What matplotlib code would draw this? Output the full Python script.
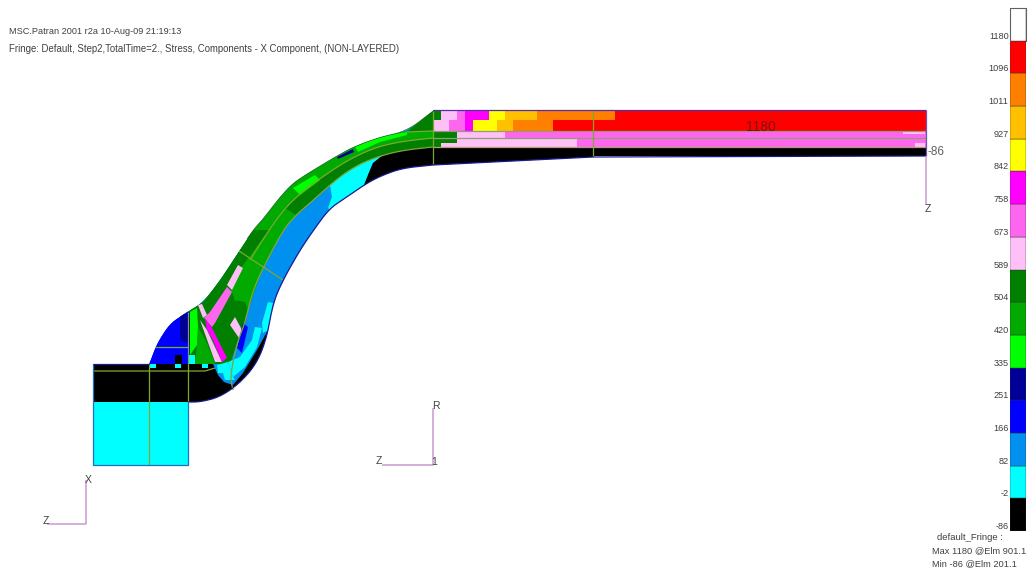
import matplotlib
matplotlib.use("Agg")
import matplotlib.pyplot as plt
from matplotlib.patches import Polygon
import numpy as np

plt.rcParams['font.family'] = ['Liberation Sans', 'DejaVu Sans']

# fringe legend, top to bottom
fringe_colors = ['#ffffff', '#ff0000', '#ff7f00', '#ffc000', '#ffff00', '#ff00ff', '#ff66f0', '#ffc0f8',
                 '#007f00', '#00aa00', '#00ff00', '#000099', '#0000ff', '#0090f0', '#00ffff', '#000000']
fringe_labels = ['1180', '1096', '1011', '927', '842', '758', '673', '589',
                 '504', '420', '335', '251', '166', '82', '-2', '-86']
WHITE, RED, ORANGE, GOLD, YELLOW, MAGENTA, PINK, LPINK, DGREEN, GREEN, BGREEN, NAVY, BLUE, SKY, CYAN, BLACK = fringe_colors

header_lines = ['MSC.Patran 2001 r2a 10-Aug-09 21:19:13',
                'Fringe: Default, Step2,TotalTime=2., Stress, Components - X Component, (NON-LAYERED)']
footer_lines = ['default_Fringe :', 'Max 1180 @Elm 901.1', 'Min -86 @Elm 201.1']

# section outline curves in image pixels
top_curve = [(433, 111), (407, 131), (380, 137), (353, 147), (335, 157), (310, 172), (293, 183), (280, 197),
             (263, 219), (253, 230), (239, 251), (220, 280), (203, 302), (187, 312), (170, 323), (157, 343), (149, 364)]
bottom_curve = [(433, 165), (403, 168), (383, 175), (367, 183), (347, 197), (330, 208), (315, 228), (300, 250),
                (283, 280), (273, 303), (267, 337), (257, 363), (240, 383), (220, 397), (200, 402), (188, 402)]
line2 = [(433, 138), (405, 141), (380, 146), (358, 155), (340, 165), (318, 180), (302, 192), (285, 208),
         (269, 230), (250, 260)]
line3 = [(433, 147), (405, 150), (383, 155), (362, 163), (345, 173), (330, 185), (310, 203), (296, 215),
         (283, 230), (262, 270), (252, 293), (245, 323), (237, 343), (230, 377), (233, 390)]

# flat part: colour breaks along x for each row
row1_breaks = [433, 441, 457, 465, 489, 505, 537, 615, 926]
row1_colors = [DGREEN, LPINK, PINK, MAGENTA, YELLOW, GOLD, ORANGE, RED]
row2_breaks = [433, 449, 465, 473, 497, 513, 553, 926]
row2_colors = [LPINK, PINK, MAGENTA, YELLOW, GOLD, ORANGE, RED]
row3_breaks = [433, 457, 505, 926]
row3_colors = [DGREEN, LPINK, PINK]
row4_breaks = [433, 457, 577, 926]
row4_colors = [DGREEN, LPINK, PINK]
row5_breaks = [433, 926]
row5_colors = [BLACK]

# contour patches under the fillet block (pixels, colour), painted in this order
fan_patches = [
    ([(253, 230), (239, 251), (220, 280), (203, 302), (187, 312), (188, 364), (230, 364), (237, 343), (245, 323),
      (252, 293), (262, 270), (283, 230)], DGREEN),
    ([(270, 230), (283, 230), (262, 270), (248, 310), (245, 302), (235, 300), (230, 287), (243, 265),
      (252, 253), (263, 238)], GREEN),
    ([(188, 312), (170, 323), (157, 343), (149, 364), (190, 364), (190, 312)], BLUE),
    ([(180, 316), (188, 311), (195, 333), (193, 345), (180, 340)], NAVY),
    ([(190, 312), (197, 308), (198, 327), (197, 345), (190, 355)], BGREEN),
    ([(198, 327), (207, 343), (215, 364), (195, 364), (197, 345)], GREEN),
    ([(188, 355), (195, 355), (195, 364), (188, 364)], CYAN),
    ([(175, 355), (182, 355), (182, 364), (175, 364)], BLACK),
    ([(238, 265), (243, 268), (232, 290), (227, 285)], LPINK),
    ([(227, 287), (232, 292), (215, 323), (212, 327), (204, 318), (210, 312)], PINK),
    ([(200, 320), (207, 330), (222, 362), (215, 362)], LPINK),
    ([(205, 318), (212, 328), (227, 358), (222, 362), (213, 340), (207, 330)], MAGENTA),
    ([(198, 305), (202, 304), (207, 315), (203, 318)], LPINK),
    ([(235, 317), (242, 330), (239, 338), (230, 325)], LPINK),
    ([(268, 302), (273, 303), (268, 330), (263, 333), (262, 323)], CYAN),
    ([(243, 323), (248, 327), (242, 353), (237, 348)], BLUE),
    ([(255, 327), (262, 328), (257, 347), (245, 367), (233, 377), (228, 362), (240, 357), (252, 340)], CYAN),
]
# patches that sit on top of the black block and the upper band
over_patches = [
    ([(217, 365), (228, 362), (233, 377), (235, 380), (225, 380), (223, 373), (218, 373)], CYAN),
    ([(337, 157), (353, 149), (354, 152), (338, 159)], NAVY),
    ([(355, 147), (380, 137), (407, 132), (407, 135), (380, 142), (358, 152)], BGREEN),
    ([(293, 188), (315, 175), (320, 180), (300, 195)], BGREEN),
    ([(407, 132), (433, 111), (433, 131)], DGREEN),
]
seat_black = [(93, 364), (213, 364), (218, 375), (224, 382), (233, 385), (243, 373), (257, 350), (268, 330),
              (280, 330), (270, 365), (245, 395), (220, 405), (93, 402)]
black_curved = [(433, 147), (405, 150), (383, 155), (373, 163), (370, 170), (366, 180), (360, 195), (403, 180), (433, 165)]
cyan_curved = [(330, 185), (345, 173), (362, 163), (383, 155), (373, 163), (370, 170), (366, 180), (360, 195),
               (335, 215), (328, 208), (332, 197)]
sky_curved = [(330, 185), (310, 203), (296, 215), (283, 230), (262, 270), (252, 293), (245, 323), (237, 343),
              (230, 377), (245, 395), (270, 365), (280, 330), (300, 280), (325, 235),
              (328, 208), (332, 197)]
black_flat = [(433, 147), (593, 147), (593, 157), (433, 165)]
cyan_squares = [150, 175, 202]

fig = plt.figure(figsize=(10.28, 5.69), dpi=100)
ax = fig.add_axes([0, 0, 1, 1])
ax.set_xlim(0, 1028)
ax.set_ylim(569, 0)
ax.axis('off')


def smooth(points, passes=3):
    # corner cutting so the outlines do not look faceted
    pts = np.array(points, dtype=float)
    for _ in range(passes):
        q = 0.75 * pts[:-1] + 0.25 * pts[1:]
        r = 0.25 * pts[:-1] + 0.75 * pts[1:]
        mid = np.empty((2 * len(q), 2))
        mid[0::2] = q
        mid[1::2] = r
        pts = np.vstack([pts[:1], mid, pts[-1:]])
    return [tuple(p) for p in pts]


top_smooth = smooth(top_curve)
bottom_smooth = smooth(bottom_curve)
silhouette = top_smooth + [(93, 364), (93, 402), (188, 402)] + bottom_smooth[::-1]
clip = Polygon(silhouette, transform=ax.transData)


def fill(points, color, z=2):
    xs, ys = zip(*points)
    for poly in ax.fill(xs, ys, color=color, lw=0, zorder=z):
        poly.set_clip_path(clip)


def curve(points, color, lw=0.9, z=5):
    xs, ys = zip(*points)
    ax.plot(xs, ys, color=color, lw=lw, zorder=z, solid_capstyle='butt')


def paint_row(y0, y1, breaks, colors):
    ax.barh((y0 + y1) / 2, np.diff(breaks), left=breaks[:-1], height=y1 - y0, color=colors, lw=0, zorder=3)


# lower block
xs_block, ys_block = zip(*[(93, 402), (188, 402), (188, 465), (93, 465)])
ax.fill(xs_block, ys_block, color=CYAN, lw=0, zorder=2)

# curved band
fill(silhouette, SKY, z=1.5)
fill(top_curve[:10] + line2[::-1], GREEN)
fill(line2[:9] + line3[7:8] + line3[:7][::-1], DGREEN)
fill(line2[7:] + [(262, 270), (283, 230), (296, 215)], GREEN)
fill(sky_curved, SKY)
fill(cyan_curved, CYAN)
fill(black_curved, BLACK)
for pts, col in fan_patches:
    fill(pts, col)
fill(seat_black, BLACK, z=2.5)
for pts, col in over_patches:
    fill(pts, col, z=2.6)
for x0 in cyan_squares:
    ax.bar(x0 + 3, 4, width=6, bottom=364, color=CYAN, lw=0, zorder=2.7)

# flat part
paint_row(110, 120, row1_breaks, row1_colors)
paint_row(120, 131, row2_breaks, row2_colors)
paint_row(131, 138, row3_breaks, row3_colors)
paint_row(138, 147, row4_breaks, row4_colors)
paint_row(147, 156, row5_breaks, row5_colors)
xs_flat, ys_flat = zip(*black_flat)
ax.fill(xs_flat, ys_flat, color=BLACK, lw=0, zorder=3)
paint_row(143, 147, [441, 457], [LPINK])
paint_row(131, 134, [903, 925], [LPINK])
paint_row(143, 147, [915, 925], [LPINK])

# element edges
edge = '#7fa830'
curve(smooth(line2), edge)
curve(smooth(line3), edge)
curve([(407, 132), (433, 131)], edge)
curve([(433, 131), (926, 131)], '#909a80')
curve([(433, 138), (926, 138)], '#8f9f70')
curve([(433, 147), (926, 147)], '#b0a070')
curve([(433, 111), (433, 165)], edge)
curve([(593, 110), (593, 157)], edge)
curve([(239, 251), (283, 280)], edge)
curve([(149, 364), (149, 465)], edge)
curve([(188, 312), (188, 402)], edge)
curve([(155, 347), (188, 347)], edge)
curve([(93, 371), (205, 371), (215, 368)], edge)

# outlines
outline = '#1a1a90'
curve(top_smooth[:80], '#204a20', lw=0.4)
curve(bottom_smooth, outline)
curve([(433, 165), (593, 157), (926, 156)], outline)
curve([(433, 110), (926, 110)], '#5030a0')
curve([(926, 110), (926, 156)], '#7050b0')
curve([(93, 364), (149, 364)], outline)
curve([(93, 364), (93, 465), (188, 465), (188, 402)], '#2070c0')

# coordinate triads
triad = '#c898d0'
curve([(926, 156), (926, 205)], triad, lw=1.1)
curve([(86, 480), (86, 524), (47, 524)], triad, lw=1.1)
curve([(433, 408), (433, 465), (382, 465)], triad, lw=1.1)

txt = '#404040'
for s, x, y in [('Z', 928, 209), ('X', 88, 480), ('Z', 46, 521), ('R', 436, 406), ('Z', 379, 461), ('1', 434, 462)]:
    ax.text(x, y, s, fontsize=7.5, color=txt, ha='center', va='center', zorder=6)
ax.text(761, 127, '1180', fontsize=10, color='#801010', ha='center', va='center', zorder=6)
ax.text(927, 152, '-86', fontsize=8.5, color='#606060', ha='left', va='center', zorder=6)

ax.text(9, 31, header_lines[0], fontsize=6.6, color=txt, ha='left', va='center')
ax.text(9, 49, header_lines[1], fontsize=6.9, color=txt, ha='left', va='center')
ax.text(937, 538, footer_lines[0], fontsize=6.8, color=txt, ha='left', va='center')
ax.text(932, 551, footer_lines[1], fontsize=6.7, color=txt, ha='left', va='center')
ax.text(932, 564, footer_lines[2], fontsize=6.7, color=txt, ha='left', va='center')

# fringe colour bar
cax = fig.add_axes([1010 / 1028, 1 - 531 / 569, 16 / 1028, (531 - 8) / 569])
n = len(fringe_colors)
cax.barh(np.arange(n) + 0.5, 1, height=1, color=fringe_colors[::-1], edgecolor='#303030', lw=0.3)
cax.set_xlim(0, 1)
cax.set_ylim(0, n)
cax.set_xticks([])
cax.set_yticks(np.arange(n))
cax.set_yticklabels(fringe_labels[::-1], fontsize=6.6, color=txt, va='bottom')
cax.tick_params(axis='y', length=0, pad=1)
for side in ('top', 'bottom', 'left', 'right'):
    cax.spines[side].set_visible(False)
cax.plot([0, 0, 1, 1], [n - 1, n, n, n - 1], color='#606060', lw=0.8, clip_on=False)

fig.savefig('out.png', dpi=100)
